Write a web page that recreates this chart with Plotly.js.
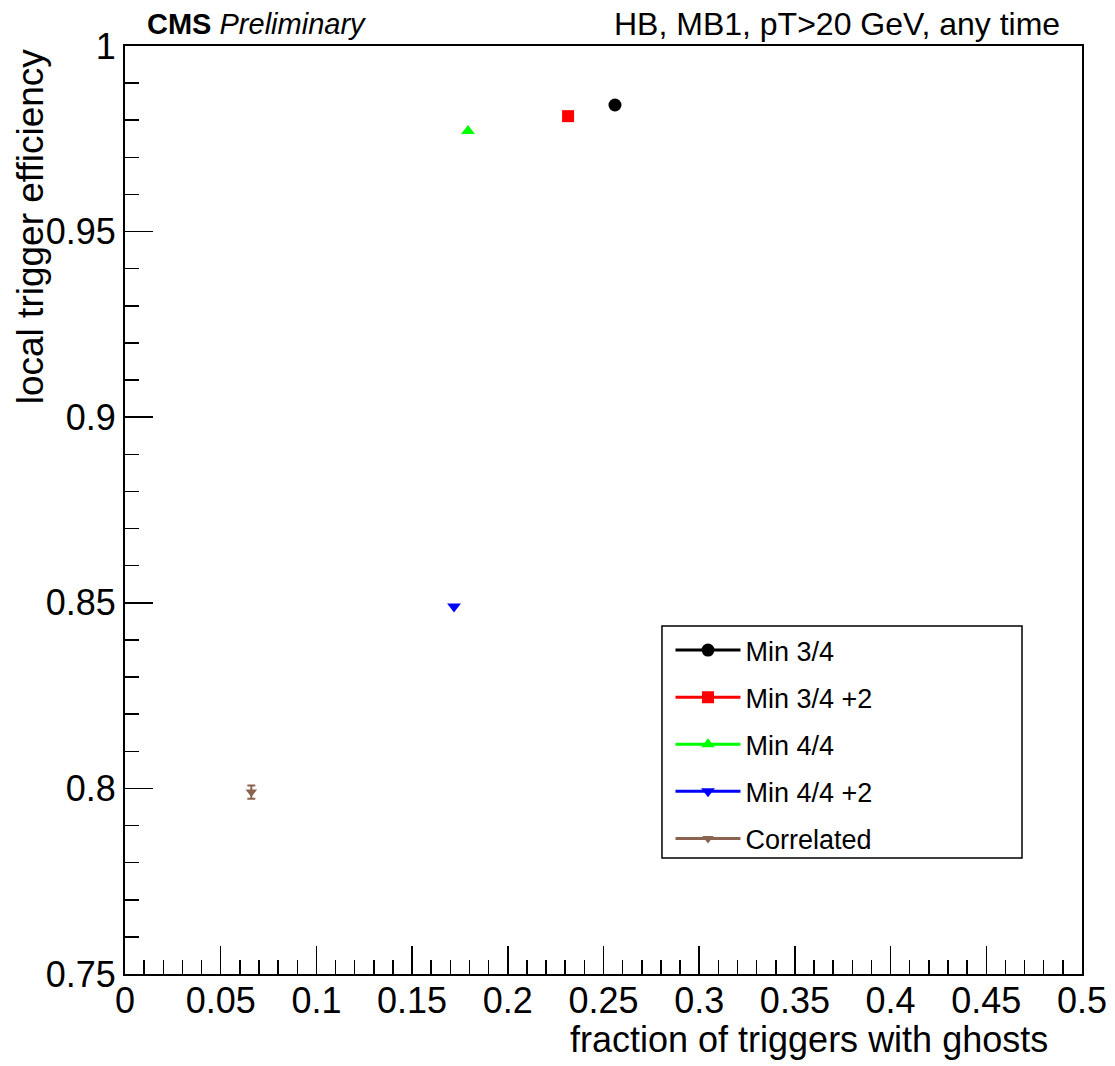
<!DOCTYPE html>
<html>
<head>
<meta charset="utf-8">
<script src="https://cdn.plot.ly/plotly-3.0.1.min.js"></script>
<style>html,body{margin:0;padding:0;background:#fff;}#plot{width:1115px;height:1066px;}</style>
</head>
<body>
<div id="plot"></div>
<script>
// Data
const seriesNames = ["Min 3/4", "Min 3/4 +2", "Min 4/4", "Min 4/4 +2", "Correlated"];
const ghostFraction = [0.256, 0.2315, 0.1792, 0.1719, 0.066];
const triggerEfficiency = [0.9841, 0.9811, 0.9771, 0.8490, 0.7990];
const efficiencyError = [0, 0, 0, 0, 0.0018];
const seriesColors = ["#000000", "#ff0000", "#00ff00", "#0000ff", "#8b6451"];
const seriesSymbols = ["circle", "square", "triangle-up", "triangle-down", "triangle-down"];
const markerSizes = [13, 12, 12, 12, 10];
const xTickVals = [0, 0.05, 0.1, 0.15, 0.2, 0.25, 0.3, 0.35, 0.4, 0.45, 0.5];
const yTickVals = [0.75, 0.8, 0.85, 0.9, 0.95, 1];

const FONT = "Liberation Sans, Arial, Helvetica, sans-serif";

const traces = seriesNames.map((name, i) => ({
  type: "scatter",
  mode: "lines+markers",
  name: name,
  legendgroup: "g" + i,
  x: [ghostFraction[i]],
  y: [triggerEfficiency[i]],
  line: {color: seriesColors[i], width: 3},
  marker: {color: seriesColors[i], symbol: seriesSymbols[i], size: markerSizes[i]},
  error_y: efficiencyError[i] > 0 ? {type: "data", array: [efficiencyError[i]], visible: true, color: seriesColors[i], thickness: 2, width: 4} : {visible: false}
}));

const axisCommon = {
  showgrid: false,
  zeroline: false,
  showline: true,
  linecolor: "#000",
  linewidth: 2,
  mirror: true,
  ticks: "inside",
  ticklen: 28,
  tickwidth: 1.5,
  tickcolor: "#000",
  tickfont: {family: FONT, size: 36, color: "#000"},
  minor: {dtick: 0.01, ticks: "inside", ticklen: 14, tickwidth: 1.5, tickcolor: "#000", showgrid: false}
};

const layout = {
  width: 1115,
  height: 1066,
  margin: {l: 125, r: 33, t: 46, b: 92, pad: 0},
  paper_bgcolor: "#fff",
  plot_bgcolor: "#fff",
  showlegend: true,
  font: {family: FONT, color: "#000"},
  xaxis: Object.assign({}, axisCommon, {range: [0, 0.5], tickvals: xTickVals, ticktext: xTickVals.map(String), ticklabelstandoff: -6}),
  yaxis: Object.assign({}, axisCommon, {range: [0.75, 1.0], tickvals: yTickVals, ticktext: yTickVals.map(String), ticklabelstandoff: 0}),
  legend: {
    x: 0.570, xanchor: "left",
    y: 0.375, yanchor: "top",
    bgcolor: "rgba(0,0,0,0)",
    borderwidth: 0,
    font: {family: FONT, size: 27, color: "#000"},
    traceorder: "grouped",
    tracegroupgap: 9,
    itemwidth: 65
  },
  shapes: [
    {type: "rect", xref: "paper", yref: "paper", x0: 0.5611, x1: 0.9373, y0: 0.125, y1: 0.375,
     line: {color: "#000", width: 1.5}, fillcolor: "rgba(0,0,0,0)", layer: "below"}
  ],
  annotations: [
    {xref: "paper", yref: "paper", x: 0.0209, y: 1.024, xanchor: "left", yanchor: "middle", showarrow: false,
     text: "<b>CMS</b> <i>Preliminary</i>", font: {family: FONT, size: 29, color: "#000"}},
    {xref: "paper", yref: "paper", x: 0.979, y: 1.024, xanchor: "right", yanchor: "middle", showarrow: false,
     text: "HB, MB1, pT>20 GeV, any time", font: {family: FONT, size: 32, color: "#000"}},
    {xref: "paper", yref: "paper", x: 0.9666, y: -0.071, xanchor: "right", yanchor: "middle", showarrow: false,
     text: "fraction of triggers with ghosts", font: {family: FONT, size: 36, color: "#000"}},
    {xref: "paper", yref: "paper", x: -0.099, y: 1.0, xanchor: "center", yanchor: "top", showarrow: false, textangle: -90,
     text: "local trigger efficiency", font: {family: FONT, size: 37, color: "#000"}}
  ]
};

Plotly.newPlot("plot", traces, layout, {displayModeBar: false, staticPlot: true});
</script>
</body>
</html>
